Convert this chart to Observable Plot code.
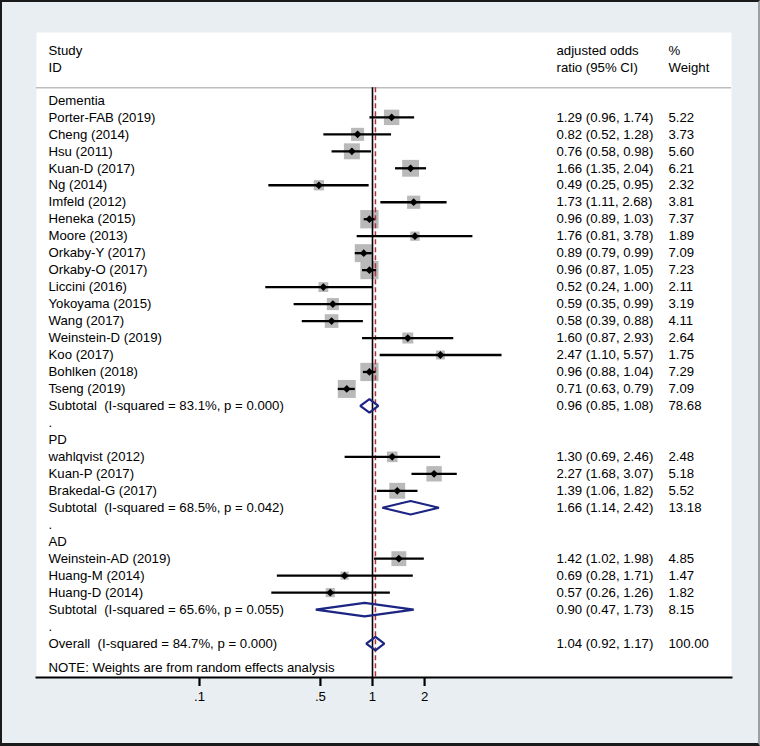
<!DOCTYPE html>
<html>
<head>
<meta charset="utf-8">
<script src="https://cdn.jsdelivr.net/npm/d3@7"></script>
<script src="https://cdn.jsdelivr.net/npm/@observablehq/plot@0.6"></script>
<style>
  html, body { margin: 0; padding: 0; background: #e8eef1; }
  #wrap { position: relative; width: 760px; height: 746px; background: #e8eef1; overflow: hidden; }
  #wrap svg { position: absolute; left: 0; top: 0; }
  #wrap svg text { white-space: pre; }
  #border { position: absolute; left: 0; top: 0; width: 760px; height: 746px; box-sizing: border-box;
            border-left: 2px solid #1a1a1a; border-top: 2px solid #1a1a1a; border-bottom: 3px solid #1a1a1a;
            border-right: 2px solid #9aa0a4; pointer-events: none; }
</style>
</head>
<body>
<div id="wrap"><div id="border"></div></div>
<script>
// ---------------- DATA ----------------
const groups = ["Dementia", "PD", "AD"];

const studyNames = [
  "Porter-FAB (2019)", "Cheng (2014)", "Hsu (2011)", "Kuan-D (2017)", "Ng (2014)",
  "Imfeld (2012)", "Heneka (2015)", "Moore (2013)", "Orkaby-Y (2017)", "Orkaby-O (2017)",
  "Liccini (2016)", "Yokoyama (2015)", "Wang (2017)", "Weinstein-D (2019)", "Koo (2017)",
  "Bohlken (2018)", "Tseng (2019)",
  "wahlqvist (2012)", "Kuan-P (2017)", "Brakedal-G (2017)",
  "Weinstein-AD (2019)", "Huang-M (2014)", "Huang-D (2014)"
];
const studyGroup = [
  0,0,0,0,0,0,0,0,0,0,0,0,0,0,0,0,0,
  1,1,1,
  2,2,2
];
const studyOR = [
  1.29, 0.82, 0.76, 1.66, 0.49, 1.73, 0.96, 1.76, 0.89, 0.96,
  0.52, 0.59, 0.58, 1.60, 2.47, 0.96, 0.71,
  1.30, 2.27, 1.39,
  1.42, 0.69, 0.57
];
const studyLo = [
  0.96, 0.52, 0.58, 1.35, 0.25, 1.11, 0.89, 0.81, 0.79, 0.87,
  0.24, 0.35, 0.39, 0.87, 1.10, 0.88, 0.63,
  0.69, 1.68, 1.06,
  1.02, 0.28, 0.26
];
const studyHi = [
  1.74, 1.28, 0.98, 2.04, 0.95, 2.68, 1.03, 3.78, 0.99, 1.05,
  1.00, 0.99, 0.88, 2.93, 5.57, 1.04, 0.79,
  2.46, 3.07, 1.82,
  1.98, 1.71, 1.26
];
const studyWeight = [
  5.22, 3.73, 5.60, 6.21, 2.32, 3.81, 7.37, 1.89, 7.09, 7.23,
  2.11, 3.19, 4.11, 2.64, 1.75, 7.29, 7.09,
  2.48, 5.18, 5.52,
  4.85, 1.47, 1.82
];

const subtotalLabels = [
  "Subtotal  (I-squared = 83.1%, p = 0.000)",
  "Subtotal  (I-squared = 68.5%, p = 0.042)",
  "Subtotal  (I-squared = 65.6%, p = 0.055)"
];
const subtotalOR = [0.96, 1.66, 0.90];
const subtotalLo = [0.85, 1.14, 0.47];
const subtotalHi = [1.08, 2.42, 1.73];
const subtotalWeight = [78.68, 13.18, 8.15];

const overallLabel = "Overall  (I-squared = 84.7%, p = 0.000)";
const overallOR = 1.04, overallLo = 0.92, overallHi = 1.17, overallWeight = 100.00;

const noteText = "NOTE: Weights are from random effects analysis";
const headerLeft = ["Study", "ID"];
const headerCI = ["adjusted odds", "ratio (95% CI)"];
const headerW = ["%", "Weight"];
const xTicks = [0.1, 0.5, 1, 2];
const xTickLabels = [".1", ".5", "1", "2"];

// ---------------- BUILD ROWS ----------------
const f2 = d3.format(".2f");
const rows = [];
let r = 0;
groups.forEach((g, gi) => {
  rows.push({row: r++, label: g, kind: "group"});
  studyNames.forEach((name, i) => {
    if (studyGroup[i] !== gi) return;
    rows.push({row: r++, label: name, kind: "study", or: studyOR[i], lo: studyLo[i], hi: studyHi[i], w: studyWeight[i]});
  });
  rows.push({row: r++, label: subtotalLabels[gi], kind: "sub", or: subtotalOR[gi], lo: subtotalLo[gi], hi: subtotalHi[gi], w: subtotalWeight[gi]});
  rows.push({row: r++, label: ".", kind: "blank"});
});
const overallRow = r;
rows.push({row: r++, label: overallLabel, kind: "sub", or: overallOR, lo: overallLo, hi: overallHi, w: overallWeight});
const noteRow = overallRow + 1.45;
rows.push({row: noteRow, label: noteText, kind: "note"});

const studies = rows.filter(d => d.kind === "study");
const pooled = rows.filter(d => d.kind === "sub");
const valued = rows.filter(d => d.or != null);

const headerRows = [-2.95, -1.95];
const sepRow = -0.75;
const dHalf = 0.4;
const diamondPts = [];
pooled.forEach((d, i) => {
  diamondPts.push({id: i, x: d.lo, y: d.row});
  diamondPts.push({id: i, x: d.or, y: d.row - dHalf});
  diamondPts.push({id: i, x: d.hi, y: d.row});
  diamondPts.push({id: i, x: d.or, y: d.row + dHalf});
});

const header = headerRows.map((row, i) => ({row, left: headerLeft[i], ci: headerCI[i], w: headerW[i]}));

const navy = "#1c2583";
const font = "Liberation Sans, Arial, Helvetica, sans-serif";

const chart = Plot.plot({
  width: 760,
  height: 746,
  marginLeft: 36,
  marginRight: 29,
  marginTop: 32,
  marginBottom: 69,
  style: {background: "transparent", fontFamily: font, fontSize: "13px", color: "#000"},
  x: {type: "log", domain: [0.1, 1], range: [199, 372]},
  y: {domain: [-4, 34], reverse: true, axis: null},
  r: {type: "sqrt", domain: [0, 1], range: [0, 3.81]},
  marks: [
    Plot.frame({fill: "white", stroke: "none"}),
    Plot.ruleY([sepRow], {stroke: "#bdbdbd", strokeWidth: 1.5}),
    // weight squares
    Plot.dot(studies, {x: "or", y: "row", r: "w", symbol: "square", fill: "#b9b9b9", stroke: "none"}),
    // null line and overall line
    Plot.ruleX([1], {y1: sepRow, y2: 34, stroke: "#000", strokeWidth: 1.6}),
    Plot.ruleX([overallOR], {y1: sepRow, y2: 34, stroke: "#b3303c", strokeWidth: 1.5, strokeDasharray: "5,3"}),
    // CI lines
    Plot.link(studies, {x1: "lo", x2: "hi", y1: "row", y2: "row", stroke: "#000", strokeWidth: 2.3}),
    Plot.dot(studies, {x: "or", y: "row", r: 3.5, symbol: "diamond2", fill: "#000", stroke: "none"}),
    // pooled diamonds
    Plot.line(diamondPts, {x: "x", y: "y", z: "id", curve: "linear-closed", stroke: navy, strokeWidth: 2.2, fill: "none", strokeLinejoin: "miter"}),
    // text columns
    Plot.text(header, {y: "row", text: "left", frameAnchor: "left", dx: 12, textAnchor: "start", fontSize: 13.2}),
    Plot.text(header, {y: "row", text: "ci", frameAnchor: "right", dx: -175, textAnchor: "start", fontSize: 13.2}),
    Plot.text(header, {y: "row", text: "w", frameAnchor: "right", dx: -63, textAnchor: "start", fontSize: 13.2}),
    Plot.text(rows, {y: "row", text: "label", frameAnchor: "left", dx: 12, textAnchor: "start", fontSize: 13.2}),
    Plot.text(valued, {y: "row", text: d => `${f2(d.or)} (${f2(d.lo)}, ${f2(d.hi)})`, frameAnchor: "right", dx: -175, textAnchor: "start", fontSize: 13.2}),
    Plot.text(valued, {y: "row", text: d => f2(d.w), frameAnchor: "right", dx: -63, textAnchor: "start", fontSize: 13.2}),
    // axis
    Plot.frame({anchor: "bottom", stroke: "#000", strokeWidth: 2}),
    Plot.axisX({ticks: xTicks, tickFormat: d => xTickLabels[xTicks.indexOf(d)], tickSize: 9, tickPadding: 5, fontSize: 13.2, strokeWidth: 2.2, anchor: "bottom", label: null})
  ]
});
document.getElementById("wrap").insertBefore(chart, document.getElementById("border"));
</script>
</body>
</html>
